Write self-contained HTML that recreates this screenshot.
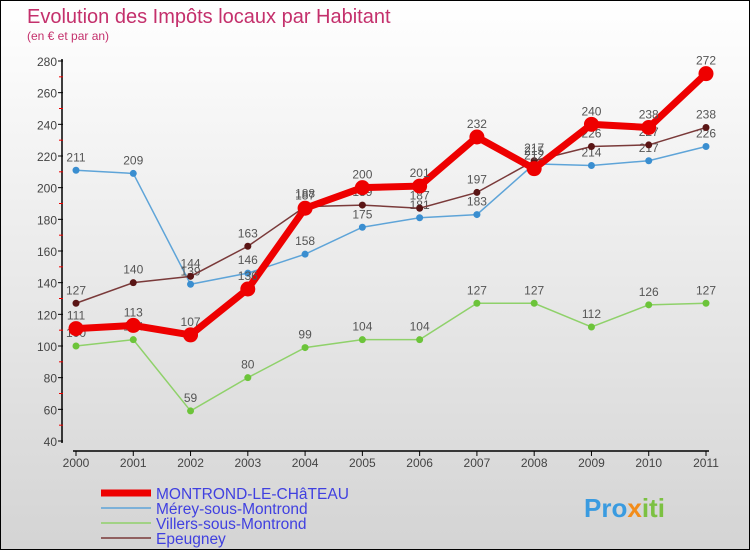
<!DOCTYPE html>
<html><head><meta charset="utf-8"><style>
body{margin:0;}
#c{position:relative;width:750px;height:550px;overflow:hidden;background:linear-gradient(#ffffff,#d4d4d4);border:1px solid #000;box-sizing:border-box;font-family:"Liberation Sans",sans-serif;}
</style></head><body>
<div id="c">
<svg id="s" width="750" height="550" style="position:absolute;left:0;top:0">
<text x="26" y="22" font-size="20" fill="#c4306c">Evolution des Impôts locaux par Habitant</text>
<text x="26" y="39" font-size="12" fill="#c4306c">(en € et par an)</text>
<g id="axes"></g><g id="series"></g><g id="legend"></g>
<text x="583" y="516" font-size="26" font-weight="bold" fill="#3a9be0">Pro<tspan fill="#f28c1a">x</tspan><tspan fill="#7cc142">iti</tspan></text>
</svg>
</div>
<script>
const years=["2000","2001","2002","2003","2004","2005","2006","2007","2008","2009","2010","2011"];
const yTicks=[40,60,80,100,120,140,160,180,200,220,240,260,280];
const montrond=[111,113,107,136,187,200,201,232,212,240,238,272];
const merey=[211,209,139,146,158,175,181,183,215,214,217,226];
const villers=[100,104,59,80,99,104,104,127,127,112,126,127];
const epeugney=[127,140,144,163,188,189,187,197,217,226,227,238];
const seriesNames=["MONTROND-LE-CHâTEAU","Mérey-sous-Montrond","Villers-sous-Montrond","Epeugney"];
const NS="http://www.w3.org/2000/svg";
const X=i=>75+i*(630/11);
const Y=v=>440-(v-40)*(380/240);
function mk(tag,attrs,parent){const e=document.createElementNS(NS,tag);for(const k in attrs)e.setAttribute(k,attrs[k]);parent.appendChild(e);return e;}
const ax=document.getElementById('axes');
let l=mk('line',{x1:61,y1:58,x2:61,y2:442,stroke:'#000','stroke-width':1.5},ax);


l=mk('line',{x1:72,y1:450,x2:708,y2:450,stroke:'#000','stroke-width':1.5},ax);


yTicks.forEach((v,i)=>{
 mk('line',{x1:57,y1:Y(v),x2:62,y2:Y(v),stroke:'#000'},ax);
 if(i<yTicks.length-1)mk('line',{x1:58,y1:Y(v+10),x2:62,y2:Y(v+10),stroke:'#e00'},ax);
 const t=mk('text',{x:56,y:Y(v)+5,'text-anchor':'end','font-size':12,fill:'#444'},ax);t.textContent=v;
 
 
});
years.forEach((y,i)=>{
 mk('line',{x1:X(i),y1:450,x2:X(i),y2:455,stroke:'#000'},ax);
 const t=mk('text',{x:X(i),y:466,'text-anchor':'middle','font-size':12,fill:'#444'},ax);t.textContent=y;
 
 
});
const sg=document.getElementById('series');
const defs=[[villers,'#8fd16a','#6cc43a',1.5,3.5,'villers'],[merey,'#5ea4d8','#3a8ed0',1.5,3.5,'merey'],[epeugney,'#7a3a3a','#5a1515',1.5,3.5,'epeugney'],[montrond,'#ee0000','#ee0000',7,7.5,'montrond']];
defs.forEach(([d,lc,pc,w,r,n])=>{
 const g=mk('g',{},sg);
 
 
 const p=mk('polyline',{points:d.map((v,i)=>X(i)+','+Y(v)).join(' '),fill:'none',stroke:lc,'stroke-width':w},g);
 
 
 d.forEach((v,i)=>{
  const c=mk('circle',{cx:X(i),cy:Y(v),r:r,fill:pc},g);
  
  
  const t=mk('text',{x:X(i),y:Y(v)-9,'text-anchor':'middle','font-size':12,fill:'#555'},g);t.textContent=v;
  
  
 });
});
const lg=document.getElementById('legend');
const lcol=['#ee0000','#5ea4d8','#8fd16a','#7a3a3a'],lw=[7,1.5,1.5,1.5];
seriesNames.forEach((n,i)=>{
 const y=492+i*15;
 const g=mk('g',{},lg);
 
 
 mk('line',{x1:100,y1:y,x2:150,y2:y,stroke:lcol[i],'stroke-width':lw[i]},g);
 const t=mk('text',{x:155,y:y+6,'font-size':15.5,fill:'#4040e0'},g);t.textContent=n;
});
</script>
</body></html>
